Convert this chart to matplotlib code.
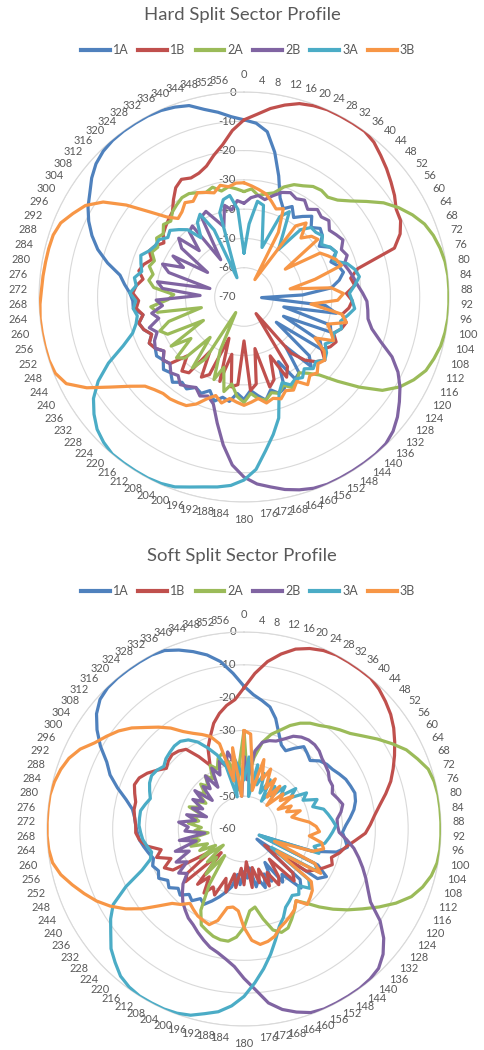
import numpy as np
import matplotlib
matplotlib.use("Agg")
import matplotlib.pyplot as plt
from matplotlib.lines import Line2D
from matplotlib import transforms

# ---------------------------------------------------------------- data
angles = list(range(0, 360, 4))
series_names = ["1A", "1B", "2A", "2B", "3A", "3B"]
colors = ["#4F81BD", "#C0504D", "#9BBB59", "#8064A2", "#4BACC6", "#F79646"]

# Hard split sector profile (dB), one value every 4 degrees from 0 to 356
hard_1a = [-9.5, -10.5, -13, -19.5, -27, -34, -37, -35, -38, -36, -34, -37, -35, -36, -39, -36,
           -35, -38, -36, -35, -37, -40, -50, -64, -42, -38, -56, -39, -38, -55, -40, -38,
           -56, -40, -37, -48, -38, -37, -45, -36, -35, -37, -34, -36, -38, -35, -37, -34,
           -35, -33, -36, -34, -35, -33, -34, -32, -34, -33, -35, -34, -35, -34, -36, -34,
           -33, -35, -32, -32, -31, -29, -27, -22, -17.5, -14, -11, -8.5, -6.5, -4, -2, -0.8,
           -0.2, 0, 0, 0, -0.3, -1, -2, -4.5, -6.3, -8.3]
hard_1b = [-9.5, -7.5, -5, -3, -1.3, -0.5, 0, 0, 0, 0, -1, -2.8, -4.5, -6.3, -8, -10,
           -10.5, -12.5, -16, -30, -33, -32, -35, -33, -34, -36, -34, -35, -37, -35, -36, -38,
           -35, -37, -40, -45, -63, -42, -39, -48, -40, -38, -52, -40, -38, -55, -40, -39,
           -50, -40, -55, -41, -39, -48, -38, -37, -42, -36, -35, -37, -35, -34, -36, -34,
           -33, -35, -33, -34, -32, -33, -35, -33, -34, -36, -34, -35, -37, -35, -34, -33,
           -32, -29, -26, -24.5, -25.5, -25, -23.5, -20.5, -17.5, -13]
hard_2a = [-34, -33, -35, -34, -33, -30, -28, -27, -25.5, -25, -25.5, -24, -21, -17, -12.5, -9,
           -6, -3.5, -2, -1, -0.3, 0, 0, 0, 0, -0.3, -0.8, -1.8, -3, -5.5, -8.6, -13,
           -20, -27, -33, -36, -38, -36, -35, -37, -35, -36, -34, -35, -37, -34, -36, -40,
           -37, -45, -40, -50, -64, -45, -40, -52, -41, -39, -47, -40, -54, -41, -39, -43,
           -55, -40, -38, -44, -46, -39, -37, -38, -36, -37, -35, -36, -34, -35, -33, -34,
           -32, -31, -30, -30, -31, -32, -31, -33, -32, -33]
hard_2b = [-38, -36, -35, -36, -34, -32, -31, -32, -31, -33, -31, -32, -31, -33, -32, -31,
           -33, -32, -34, -33, -32, -31, -29.5, -28, -27.5, -27, -25, -21, -15.5, -11.5, -8.5, -6,
           -3.5, -1.5, -0.3, 0, 0, 0, 0, 0, -0.5, -1.5, -2.8, -4.5, -6, -8.5, -12.5, -19,
           -26, -32, -34, -33, -35, -34, -33, -35, -34, -36, -35, -37, -35, -36, -38, -36,
           -40, -38, -42, -40, -55, -42, -40, -58, -43, -40, -47, -42, -55, -43, -40, -48,
           -41, -40, -55, -39, -38, -42, -45, -38, -40, -37]
hard_3a = [-55, -45, -37, -38, -47, -52, -40, -37, -45, -50, -40, -37, -37, -36, -38, -36,
           -35, -37, -33, -31, -30, -32, -34, -33, -32, -34, -36, -35, -37, -36, -38, -36,
           -35, -37, -36, -38, -36, -37, -36, -38, -35, -27, -22, -17, -11, -7.5, -5.5, -4.5,
           -3.7, -2.5, -1, -0.3, 0, 0, 0, 0, -1, -2.5, -5, -8, -12.5, -18.5, -25.5, -30,
           -32, -33, -32, -33, -31, -33, -32, -34, -33, -32, -34, -35, -35, -37, -36, -38,
           -40, -45, -40, -38, -45, -63, -40, -36, -35, -40]
hard_3b = [-31, -32, -33, -34, -36, -38, -37, -45, -63, -40, -37, -42, -39, -38, -53, -40,
           -38, -36, -35, -45, -54, -40, -36, -38, -47, -36, -34, -40, -38, -36, -42, -37,
           -35, -36, -34, -35, -33, -36, -34, -35, -33, -34, -33, -35, -34, -33, -34, -35,
           -33, -35, -33, -30, -28, -27.5, -27, -27, -26, -24.5, -20.5, -15, -8, -2.5, -0.5, 0,
           0, 0, 0, -0.3, -0.8, -1, -1.2, -1.3, -1.5, -2.5, -5, -7.5, -12, -19, -26.5, -32,
           -35, -34, -32, -33, -31, -32, -33, -31, -32, -31]

# Soft split sector profile (dB)
soft_1a = [-16.5, -19, -20.5, -22, -25, -29, -32, -33, -31, -29, -30, -31, -29, -28, -27.5, -26.5,
           -25.5, -25, -24.5, -25, -26, -27.5, -29, -30, -29, -28, -31, -38, -55, -35, -31, -33,
           -55, -37, -35, -42, -40, -48, -42, -45, -41, -44, -42, -48, -45, -47, -43, -46,
           -42, -40, -38, -36, -34, -35, -33, -34, -32, -33, -31, -32, -30, -31, -30, -31,
           -30, -29, -28, -27.5, -27, -26.5, -25.5, -23, -19.5, -16, -13.5, -9.5, -6, -3, -1, -0.2,
           0, 0, 0, 0, -0.5, -2, -3.8, -5.8, -8.5, -12.5]
soft_1b = [-17, -12.5, -8.5, -5.5, -3, -1.5, -0.5, 0, 0, 0, 0, -0.8, -2, -3.3, -5, -7,
           -9, -11, -13, -15.5, -18, -20, -21.5, -23, -26, -28.5, -30, -32, -31, -33, -35, -37,
           -52, -40, -38, -48, -42, -40, -45, -41, -47, -43, -48, -42, -50, -43, -48, -42,
           -46, -40, -44, -38, -40, -37, -42, -38, -50, -36, -38, -48, -35, -33, -36, -32,
           -34, -30, -28, -27, -27, -26.5, -26, -26, -25, -24, -24.5, -26, -28, -30, -29, -28.5,
           -29, -30, -34, -38, -33, -30, -26.5, -24, -22, -20.5]
soft_2a = [-30, -45, -38, -33, -30, -28, -25.5, -23.5, -22, -21, -19.5, -18, -16.5, -14, -11, -8,
           -5, -3, -1, -0.3, 0, 0, 0, 0, 0, -0.3, -1.2, -2.8, -5, -8.5, -12.5, -16.5,
           -20, -23.5, -27, -30.5, -33, -31, -29, -27, -26.5, -28, -32, -36, -35, -30, -27, -25.5,
           -25.5, -26, -27, -28, -32, -40, -50, -42, -48, -45, -52, -44, -50, -45, -48, -43,
           -46, -44, -49, -45, -47, -43, -46, -44, -47, -42, -45, -43, -46, -42, -44, -41,
           -43, -40, -42, -38, -40, -37, -36, -40, -48, -40]
soft_2b = [-38, -45, -36, -33, -32, -31.5, -30, -28, -27, -26.5, -26.5, -27, -28, -28.5, -29, -30,
           -30, -31, -30, -29, -30, -31.5, -31.5, -31, -28.5, -26, -24, -22, -20, -18, -15.5, -10,
           -6, -3, -1, -0.3, 0, 0, 0, 0, -0.5, -2, -3.8, -6.5, -11, -14.5, -18, -20,
           -21.5, -22.5, -24, -25.5, -27, -28, -29.5, -31, -33, -35, -38, -36, -40, -37, -42, -38,
           -45, -40, -48, -42, -43, -40, -45, -42, -48, -43, -46, -42, -45, -41, -47, -42,
           -44, -40, -45, -39, -42, -38, -40, -36, -40, -50]
soft_3a = [-45, -38, -50, -40, -46, -42, -48, -43, -50, -44, -47, -42, -45, -40, -43, -38,
           -40, -36, -38, -35, -34, -33, -32, -33, -34, -35, -38, -36, -55, -36, -34, -50,
           -35, -33, -36, -34, -35, -34, -33, -30.5, -28.5, -25, -21, -17, -13, -9, -6, -3.8,
           -2.5, -1, -0.3, 0, 0, 0, -0.5, -1.5, -3.5, -5.5, -8.5, -11, -14, -20, -26.5, -30,
           -31, -30, -29, -28.5, -28, -28, -28, -29, -30, -29, -28, -27.5, -28, -29, -28, -27.5,
           -27, -27, -28, -30, -33, -36, -40, -50, -38, -42]
soft_3b = [-30, -31, -42, -48, -38, -44, -40, -46, -42, -48, -43, -50, -44, -46, -42, -48,
           -44, -46, -42, -45, -43, -40, -38, -37, -40, -36, -35, -38, -50, -36, -33, -48,
           -34, -32, -31, -30, -33, -31, -30, -29, -28, -26, -25, -24.5, -26, -30, -35, -36,
           -35.5, -31, -29, -29.5, -30, -31, -32, -30, -28.5, -25, -20.5, -16.5, -13, -10, -7.5, -5,
           -2.5, -0.8, -0.2, 0, 0, 0, 0, -0.5, -1.3, -2.5, -4.5, -7.5, -9.5, -11.5, -14, -17,
           -19.5, -22, -25, -27, -28.5, -30, -33, -45, -35, -50]

hard_series = [hard_1a, hard_1b, hard_2a, hard_2b, hard_3a, hard_3b]
soft_series = [soft_1a, soft_1b, soft_2a, soft_2b, soft_3a, soft_3b]

# ---------------------------------------------------------------- styling
TEXT = "#595959"
GRID = "#D9D9D9"
FONT = ["Lato", "DejaVu Sans"]
plt.rcParams["font.family"] = FONT

W, H = 484, 1050
fig = plt.figure(figsize=(W / 100, H / 100), dpi=100)


def panel(cx, cy, radius, rmin, series, title, title_y, legend_y):
    rect = [(cx - radius) / W, 1 - (cy + radius) / H, 2 * radius / W, 2 * radius / H]
    ax = fig.add_axes(rect, projection="polar")
    ax.set_theta_zero_location("N")
    ax.set_theta_direction(-1)
    ax.set_ylim(rmin, 0)
    ax.set_xticks([])
    ax.set_yticks(list(range(rmin, 1, 10)))
    ax.set_yticklabels([])
    ax.yaxis.grid(True, color=GRID, lw=0.8)
    ax.spines["polar"].set_color(GRID)
    ax.spines["polar"].set_linewidth(0.8)
    ax.set_facecolor("none")

    # radial value labels along the 0-degree axis (drawn beneath the series)
    off = transforms.offset_copy(ax.transData, fig=fig, x=-8, y=0, units="dots")
    for v in range(rmin, 1, 10):
        ax.text(0, v, str(v), transform=off, ha="right", va="center",
                fontsize=8.2, color=TEXT, zorder=2, clip_on=False)

    theta = np.deg2rad(angles + [angles[0]])
    for vals, col in zip(series, colors):
        ax.plot(theta, list(vals) + [vals[0]], color=col, lw=2.3,
                solid_joinstyle="round", solid_capstyle="round", zorder=3)

    # category labels around the rim
    k = (radius + 12) / radius
    for a in angles:
        s, c = np.sin(np.deg2rad(a)), np.cos(np.deg2rad(a))
        if a == 0:
            ha, va = "center", "bottom"
        elif a == 180:
            ha, va = "center", "top"
        elif a < 180:
            ha, va = "left", "center"
        else:
            ha, va = "right", "center"
        ax.text(0.5 + 0.5 * k * s, 0.5 + 0.5 * k * c, str(a), transform=ax.transAxes,
                ha=ha, va=va, fontsize=7.9, color=TEXT, clip_on=False)

    fig.text(0.5, 1 - title_y / H, title, ha="center", va="center",
             fontsize=13.3, color=TEXT)
    handles = [Line2D([0], [0], color=c, lw=3) for c in colors]
    fig.legend(handles, series_names, loc="center", ncol=6,
               bbox_to_anchor=(248 / W, 1 - legend_y / H), frameon=False,
               fontsize=9, labelcolor=TEXT, handlelength=2.3,
               handletextpad=0.25, columnspacing=0.8)


panel(244, 297, 205, -70, hard_series, "Hard Split Sector Profile", 15, 50)
panel(244, 829, 197, -60, soft_series, "Soft Split Sector Profile", 556, 591)

fig.savefig("out.png", dpi=100, facecolor="white")
